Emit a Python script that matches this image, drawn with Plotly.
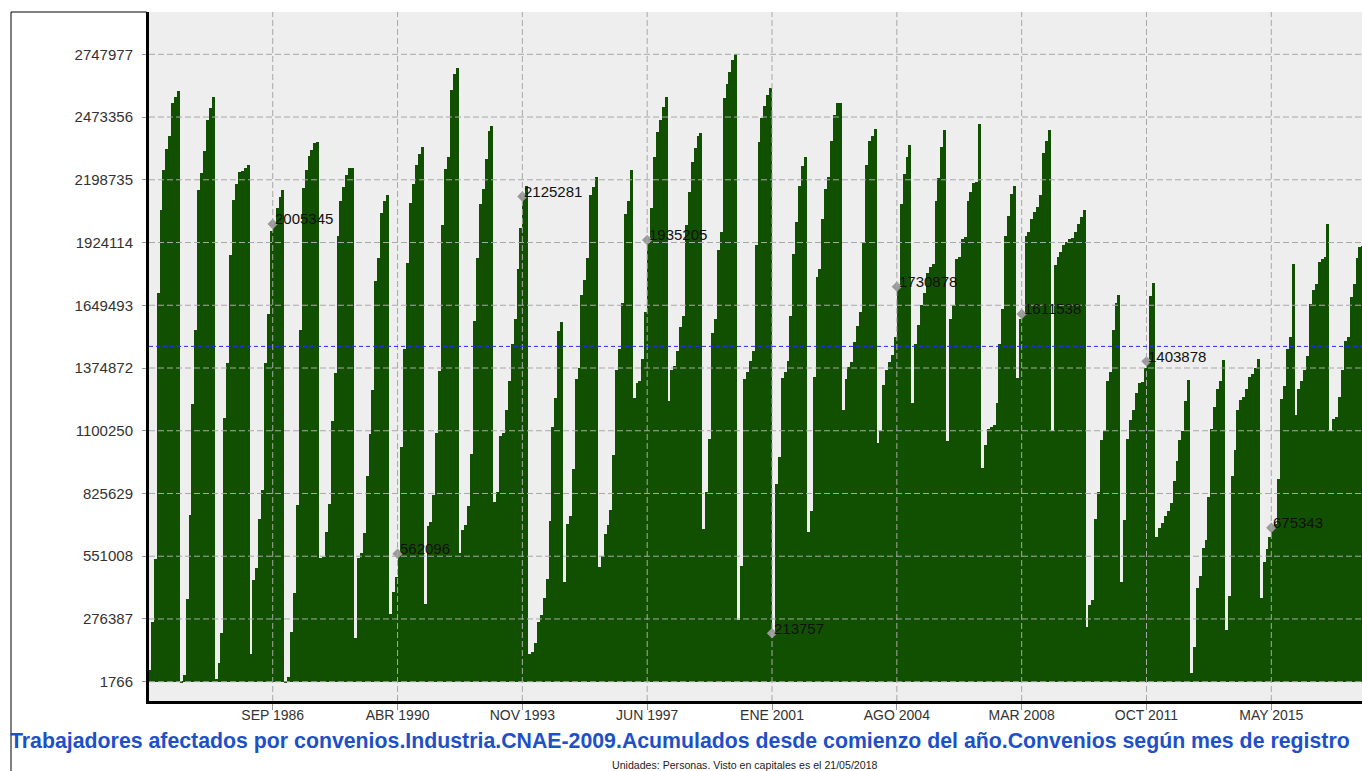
import plotly.graph_objects as go

# ---------------- data ----------------
MONTHS_ES = ["ENE", "FEB", "MAR", "ABR", "MAY", "JUN", "JUL", "AGO", "SEP", "OCT", "NOV", "DIC"]
FIRST_YEAR = 1983

Y1983 = [20000, 53000, 263000, 538000, 1702000, 2065000, 2242000, 2335000, 2391000, 2534000, 2562000, 2586000]
Y1984 = [1766, 29000, 365000, 733000, 1218000, 1540000, 2153000, 2227000, 2326000, 2461000, 2512000, 2562000]
Y1985 = [15000, 85000, 214000, 1157000, 1396000, 1868000, 2111000, 2179000, 2231000, 2238000, 2249000, 2262000]
Y1986 = [121000, 447000, 499000, 715000, 842000, 1398000, 1610000, 1973000, 2005345, 2074000, 2124000, 2153000]
Y1987 = [3500, 24000, 219000, 392000, 775000, 1541000, 2164000, 2242000, 2302000, 2330000, 2361000, 2365000]
Y1988 = [545000, 548000, 659000, 781000, 1144000, 1352000, 1954000, 2105000, 2166000, 2221000, 2249000, 2252000]
Y1989 = [195000, 545000, 563000, 652000, 900000, 1085000, 1278000, 1755000, 1858000, 2055000, 2105000, 2133000]
Y1990 = [296000, 394000, 462000, 562096, 1030000, 1457000, 1834000, 2098000, 2179000, 2265000, 2311000, 2344000]
Y1991 = [343000, 683000, 702000, 821000, 1089000, 1361000, 2000000, 2245000, 2298000, 2590000, 2660000, 2686000]
Y1992 = [564000, 665000, 689000, 770000, 1000000, 1580000, 1857000, 2092000, 2157000, 2290000, 2411000, 2433000]
Y1993 = [790000, 831000, 1076000, 1090000, 1190000, 1319000, 1481000, 1590000, 1810000, 1987000, 2125281, 2172000]
Y1994 = [121000, 131000, 173000, 263000, 293000, 366000, 451000, 705000, 1116000, 1245000, 1536000, 1575000]
Y1995 = [438000, 693000, 726000, 932000, 1328000, 1377000, 1696000, 1760000, 1858000, 2133000, 2166000, 2212000]
Y1996 = [503000, 554000, 647000, 687000, 753000, 993000, 1368000, 1460000, 1660000, 2050000, 2105000, 2243000]
Y1997 = [1245000, 1310000, 1320000, 1416000, 1622000, 1935205, 2074000, 2300000, 2409000, 2460000, 2516000, 2562000]
Y1998 = [1230000, 1365000, 1383000, 1448000, 1553000, 1601000, 2000000, 2144000, 2277000, 2336000, 2390000, 2405000]
Y1999 = [668000, 834000, 1064000, 1530000, 1590000, 1893000, 1969000, 2558000, 2617000, 2672000, 2722000, 2747977]
Y2000 = [272000, 508000, 1328000, 1356000, 1405000, 1448000, 1912000, 2363000, 2470000, 2520000, 2571000, 2599000]
Y2001 = [213757, 867000, 987000, 1333000, 1356000, 1405000, 1604000, 1875000, 2013000, 2170000, 2260000, 2297000]
Y2002 = [659000, 748000, 1337000, 1774000, 1807000, 2028000, 2157000, 2212000, 2369000, 2483000, 2534000, 2537000]
Y2003 = [1190000, 1328000, 1378000, 1402000, 1490000, 1558000, 1620000, 1923000, 2263000, 2369000, 2390000, 2420000]
Y2004 = [1046000, 1098000, 1300000, 1365000, 1400000, 1433000, 1512000, 1730878, 2092000, 2225000, 2298000, 2350000]
Y2005 = [1221000, 1481000, 1564000, 1650000, 1705000, 1790000, 1816000, 1830000, 2105000, 2207000, 2341000, 2415000]
Y2006 = [1055000, 1591000, 1650000, 1853000, 1860000, 1941000, 1949000, 2105000, 2147000, 2184000, 2190000, 2442000]
Y2007 = [937000, 1039000, 1107000, 1116000, 1125000, 1223000, 1481000, 1632000, 1954000, 2041000, 2138000, 2170000]
Y2008 = [1332000, 1590000, 1611538, 1954000, 1972000, 2028000, 2059000, 2078000, 2133000, 2317000, 2369000, 2415000]
Y2009 = [1100000, 1825000, 1862000, 1881000, 1912000, 1927000, 1940000, 1945000, 1972000, 2006000, 2037000, 2065000]
Y2010 = [241000, 337000, 361000, 716000, 831000, 1061000, 1101000, 1319000, 1356000, 1540000, 1660000, 1696000]
Y2011 = [438000, 711000, 1064000, 1147000, 1193000, 1267000, 1310000, 1315000, 1374000, 1403878, 1692000, 1748000]
Y2012 = [637000, 674000, 696000, 729000, 748000, 785000, 880000, 969000, 1061000, 1098000, 1230000, 1322000]
Y2013 = [38600, 153000, 411000, 466000, 586000, 624000, 812000, 1107000, 1203000, 1285000, 1319000, 1411000]
Y2014 = [226000, 379000, 904000, 1015000, 1190000, 1236000, 1250000, 1282000, 1337000, 1350000, 1374000, 1416000]
Y2015 = [370000, 527000, 582000, 634000, 675343, 693000, 891000, 1239000, 1297000, 1460000, 1512000, 1829000]
Y2016 = [1171000, 1282000, 1319000, 1368000, 1429000, 1654000, 1715000, 1742000, 1840000, 1853000, 1862000, 2006000]
Y2017 = [1101000, 1153000, 1160000, 1249000, 1368000, 1494000, 1510000, 1687000, 1742000, 1856000, 1903000, 1910000]

YEAR_SERIES = [Y1983, Y1984, Y1985, Y1986, Y1987, Y1988, Y1989, Y1990, Y1991, Y1992,
               Y1993, Y1994, Y1995, Y1996, Y1997, Y1998, Y1999, Y2000, Y2001, Y2002,
               Y2003, Y2004, Y2005, Y2006, Y2007, Y2008, Y2009, Y2010, Y2011, Y2012,
               Y2013, Y2014, Y2015, Y2016, Y2017]

X_TICK_LABELS = ["SEP 1986", "ABR 1990", "NOV 1993", "JUN 1997", "ENE 2001",
                 "AGO 2004", "MAR 2008", "OCT 2011", "MAY 2015"]
Y_TICK_VALUES = [1766, 276387, 551008, 825629, 1100250, 1374872,
                 1649493, 1924114, 2198735, 2473356, 2747977]
MEAN_LINE = 1469400

TITLE = ("Trabajadores afectados por convenios.Industria.CNAE-2009.Acumulados desde "
         "comienzo del año.Convenios según mes de registro")
SUBTITLE = "Unidades: Personas. Visto en capitales es el 21/05/2018"

# ---------------- build ----------------
values = [v for year in YEAR_SERIES for v in year]
labels = [f"{MONTHS_ES[i % 12]} {FIRST_YEAR + i // 12}" for i in range(len(values))]
idx = list(range(len(values)))
tick_idx = [labels.index(t) for t in X_TICK_LABELS]

W, H = 1362, 771
L, R, T, B = 149, 0, 12, 70
X_RANGE = [1.378, 419.24]
Y_RANGE = [-82710, 2933130]

GREEN = "#115000"
GRID = "#a8a8a8"
TICK_FONT = "Liberation Sans, Arial, sans-serif"

fig = go.Figure()
fig.add_trace(go.Bar(
    x=idx, y=values, offset=0, width=1,
    marker=dict(color=GREEN, line=dict(width=0)),
    customdata=labels, hovertemplate="%{customdata}: %{y}<extra></extra>",
    showlegend=False,
))
fig.add_trace(go.Scatter(
    x=tick_idx, y=[values[i] for i in tick_idx], mode="markers",
    marker=dict(symbol="diamond", size=8, color="#9a9a9a", line=dict(width=0)),
    hoverinfo="skip", showlegend=False,
))

shapes = []
for v in Y_TICK_VALUES:
    shapes.append(dict(type="line", xref="paper", yref="y", x0=0, x1=1, y0=v, y1=v,
                       line=dict(color=GRID, width=1, dash="6px,3px"), layer="above"))
for i in tick_idx:
    shapes.append(dict(type="line", xref="x", yref="paper", x0=i, x1=i, y0=0, y1=1,
                       line=dict(color=GRID, width=1, dash="6px,3px"), layer="above"))
shapes.append(dict(type="line", xref="paper", yref="y", x0=0, x1=1, y0=MEAN_LINE, y1=MEAN_LINE,
                   line=dict(color="#2a2aff", width=1, dash="4px,3px"), layer="above"))
# outer frame (left & top-left border)
fx = (11 - L) / (W - L - R)
shapes.append(dict(type="line", xref="paper", yref="paper", x0=fx, x1=fx, y0=-0.2, y1=1,
                   line=dict(color="black", width=1), layer="above"))
shapes.append(dict(type="line", xref="paper", yref="paper", x0=fx, x1=-0.002, y0=1, y1=1,
                   line=dict(color="black", width=1), layer="above"))

annotations = []
for i in tick_idx:
    annotations.append(dict(x=i, y=values[i], xref="x", yref="y", text=str(values[i]),
                            showarrow=False, xanchor="left", yanchor="middle",
                            xshift=0, yshift=5,
                            font=dict(family=TICK_FONT, size=15, color="#111111")))
annotations.append(dict(x=(745 - L) / (W - L - R), y=(H - B - 765) / (H - T - B),
                        xref="paper", yref="paper", text=SUBTITLE, showarrow=False,
                        xanchor="center", yanchor="middle",
                        font=dict(family="Liberation Sans, sans-serif",
                                  size=10.6, color="#222222")))

fig.update_layout(
    width=W, height=H,
    margin=dict(l=L, r=R, t=T, b=B, pad=0),
    paper_bgcolor="white", plot_bgcolor="#eeeeee",
    bargap=0,
    title=dict(text="<b>" + TITLE + "</b>", x=10 / W, xanchor="left",
               y=1 - 741 / H, yanchor="middle", xref="container", yref="container",
               font=dict(family="Liberation Sans, Arial, sans-serif",
                         size=21.3, color="#1e50c8")),
    xaxis=dict(range=X_RANGE, tickmode="array", tickvals=tick_idx, ticktext=X_TICK_LABELS,
               showgrid=False, zeroline=False, showline=True, linecolor="black", linewidth=3,
               ticks="outside", ticklen=6, tickcolor="#999999", tickwidth=1,
               ticklabelstandoff=-7,
               tickfont=dict(family=TICK_FONT, size=14, color="#333333")),
    yaxis=dict(range=Y_RANGE, tickmode="array", tickvals=Y_TICK_VALUES,
               ticktext=[str(v) for v in Y_TICK_VALUES],
               showgrid=False, zeroline=False, showline=True, linecolor="black", linewidth=3,
               ticks="outside", ticklen=4, tickcolor="#999999", tickwidth=1,
               ticklabelstandoff=6,
               tickfont=dict(family=TICK_FONT, size=15, color="#333333")),
    shapes=shapes, annotations=annotations,
)

fig.write_html("out.html",
               config={"displayModeBar": False},
               post_script="document.body.style.margin='0px';document.body.style.padding='0px';")
